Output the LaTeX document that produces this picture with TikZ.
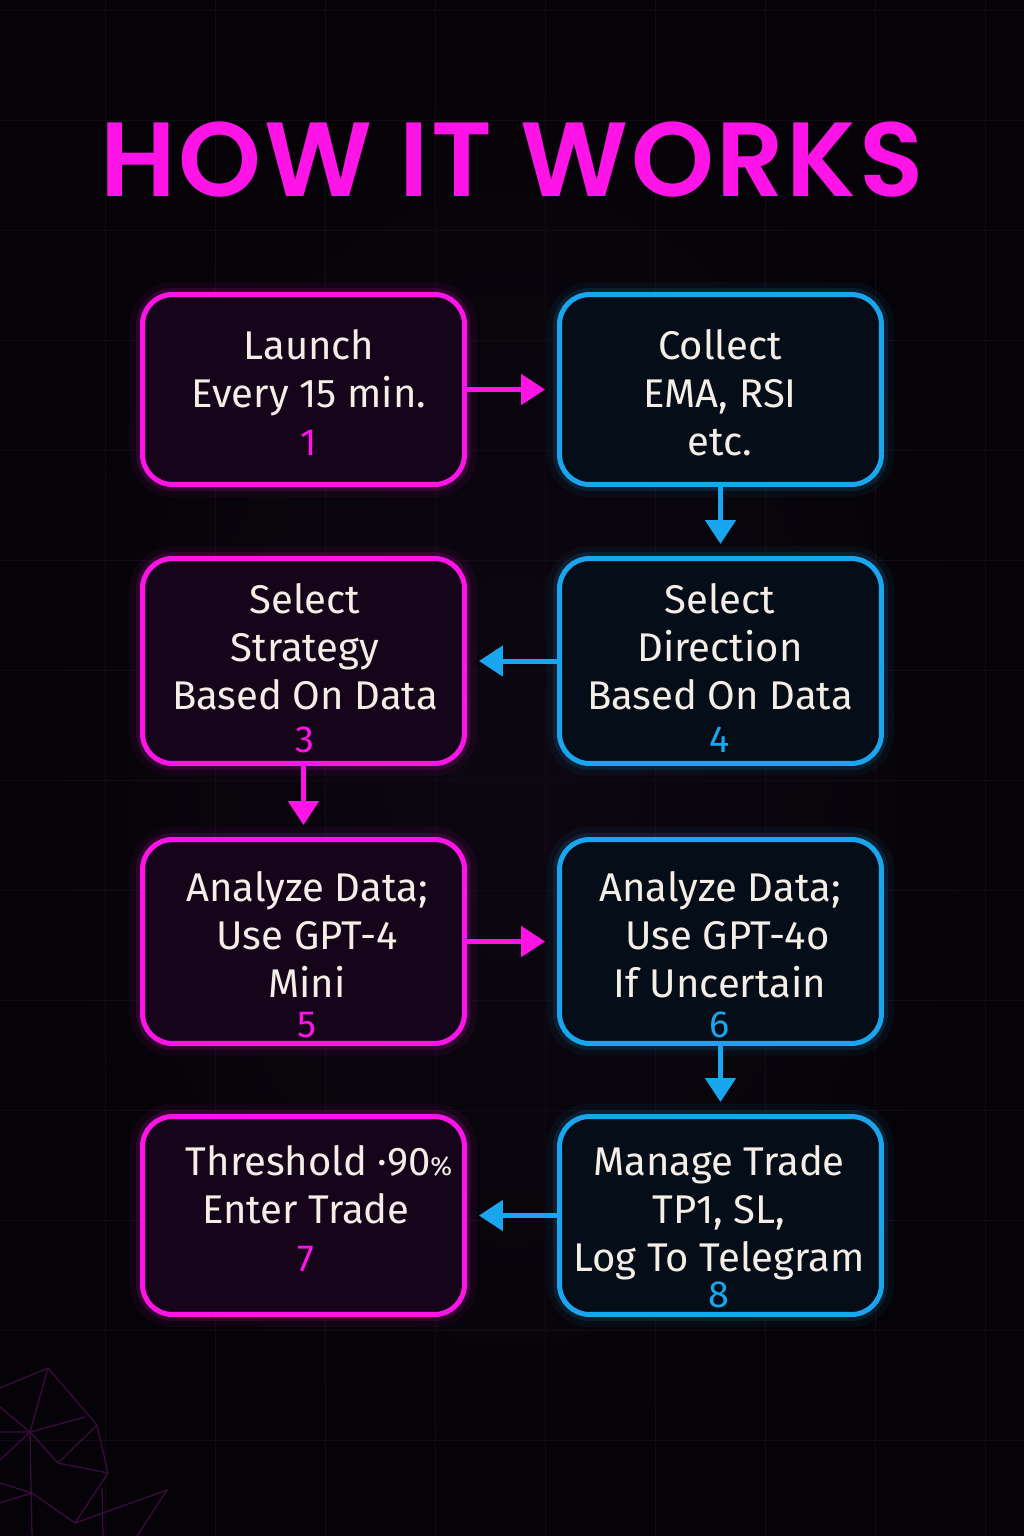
\documentclass[tikz,border=0pt]{standalone}
\usepackage{fontspec}
\setmainfont{Fira Sans}
\newfontfamily\titlefont{Poppins SemiBold}[LetterSpace=2.5]
\usetikzlibrary{arrows.meta}
\definecolor{bgdark}{HTML}{050307}
\definecolor{bgmid}{HTML}{0D0711}
\definecolor{neonpink}{HTML}{FF14E8}
\definecolor{neonblue}{HTML}{19A6EE}
\definecolor{pinkfill}{HTML}{16041A}
\definecolor{bluefill}{HTML}{050D18}
\definecolor{offwhite}{HTML}{F4EEE6}
\definecolor{gridline}{HTML}{140A17}
\definecolor{facetline}{HTML}{3A0C3C}

\newcommand{\topstrut}{\rule{0pt}{0.8cm}}
\newcommand{\stepnum}[2]{\textcolor{#1}{\fontsize{21.5}{27.3}\selectfont #2}}

\begin{document}
\begin{tikzpicture}[x=0.02cm, y=-0.02cm,
    stepbox/.style={rounded corners=0.6cm, line width=0.1cm, minimum width=6.44cm, inner sep=0pt},
    pinkstep/.style={stepbox, draw=neonpink, fill=pinkfill,
        preaction={draw=neonpink, line width=0.5cm, opacity=0.05},
        preaction={draw=neonpink, line width=0.26cm, opacity=0.12}},
    bluestep/.style={stepbox, draw=neonblue, fill=bluefill,
        preaction={draw=neonblue, line width=0.5cm, opacity=0.05},
        preaction={draw=neonblue, line width=0.26cm, opacity=0.12}},
    steptext/.style={text=offwhite, align=center, anchor=north, inner sep=0pt,
        font=\fontsize{22.8}{27.3}\selectfont},
    pinkflow/.style={draw=neonpink, line width=0.1cm, shorten >=0.24cm,
        -{Triangle[length=0.48cm, width=0.6cm]}},
    blueflow/.style={draw=neonblue, line width=0.1cm, shorten >=0.24cm,
        -{Triangle[length=0.48cm, width=0.6cm]}},
    facet/.style={draw=facetline, line width=0.026cm}]
    \useasboundingbox (0,0) rectangle (1024,1536);
    % background
    \shade[inner color=bgmid, outer color=bgdark] (0,0) rectangle (1024,1536);
    \foreach \gx in {105,215,...,1024}
        \draw[gridline] (\gx,0) -- (\gx,1536);
    \foreach \gy in {10,120,...,1536}
        \draw[gridline] (0,\gy) -- (1024,\gy);
    % corner facets
    \draw[facet] (0,1388) -- (48,1368) -- (97,1425) -- (108,1473) -- (75,1523) -- (32,1493) -- (0,1483);
    \draw[facet] (48,1368) -- (30,1432) -- (85,1417);
    \draw[facet] (97,1425) -- (58,1463) -- (108,1473);
    \draw[facet] (30,1432) -- (58,1463);
    \draw[facet] (0,1407) -- (30,1432) -- (0,1460);
    \draw[facet] (0,1432) -- (30,1432) -- (32,1536);
    \draw[facet] (32,1493) -- (0,1503);
    \draw[facet] (75,1523) -- (167,1490) -- (137,1536);
    \draw[facet] (102,1488) -- (103,1536);

    % title
    \node[text=neonpink, inner sep=0pt, font=\titlefont\fontsize{60}{60}\selectfont] (title) at (512,160) {HOW IT WORKS};

    % boxes
    \node[pinkstep, minimum height=3.8cm] (s1) at (303.5,389.5) {};
    \node[bluestep, minimum height=3.8cm] (s2) at (720.5,389.5) {};
    \node[pinkstep, minimum height=4.1cm] (s3) at (303.5,661) {};
    \node[bluestep, minimum height=4.1cm] (s4) at (720.5,661) {};
    \node[pinkstep, minimum height=4.08cm] (s5) at (303.5,941.5) {};
    \node[bluestep, minimum height=4.08cm] (s6) at (720.5,941.5) {};
    \node[pinkstep, minimum height=3.96cm] (s7) at (303.5,1215.5) {};
    \node[bluestep, minimum height=3.96cm] (s8) at (720.5,1215.5) {};

    % texts
    \node[steptext] (t1) at (309,319) {\topstrut Launch\\Every 15 min.\\\stepnum{neonpink}{1}};
    \node[steptext] (t2) at (720,319) {\topstrut Collect\\EMA, RSI\\etc.};
    \node[steptext] (t3) at (305,573) {\topstrut Select\\Strategy\\Based On Data\\[-2.8pt]\stepnum{neonpink}{3}};
    \node[steptext] (t4) at (720,573) {\topstrut Select\\Direction\\Based On Data\\[-2.8pt]\stepnum{neonblue}{4}};
    \node[steptext] (t5) at (307,861) {\topstrut Analyze Data;\\Use GPT-4\\Mini\\[-4.5pt]\stepnum{neonpink}{5}};
    \node[steptext] (t6) at (720,861) {\topstrut Analyze Data;\\\hspace*{0.3cm}Use GPT-4o\\If Uncertain\\[-4.5pt]\stepnum{neonblue}{6}};
    \node[steptext] (t7) at (306,1135) {\topstrut\hspace*{0.52cm}Threshold ·90{\fontsize{15}{15}\selectfont\%}\\Enter Trade\\\stepnum{neonpink}{7}};
    \node[steptext] (t8) at (719,1135) {\topstrut Manage Trade\\TP1, SL,\\Log To Telegram\\[-6.8pt]\stepnum{neonblue}{8}};

    % flow
    \draw[pinkflow] (s1) -- (s2);
    \draw[blueflow] (s2) -- (s4);
    \draw[blueflow] (s4) -- (s3);
    \draw[pinkflow] (s3) -- (s5);
    \draw[pinkflow] (s5) -- (s6);
    \draw[blueflow] (s6) -- (s8);
    \draw[blueflow] (s8) -- (s7);
\end{tikzpicture}
\end{document}
